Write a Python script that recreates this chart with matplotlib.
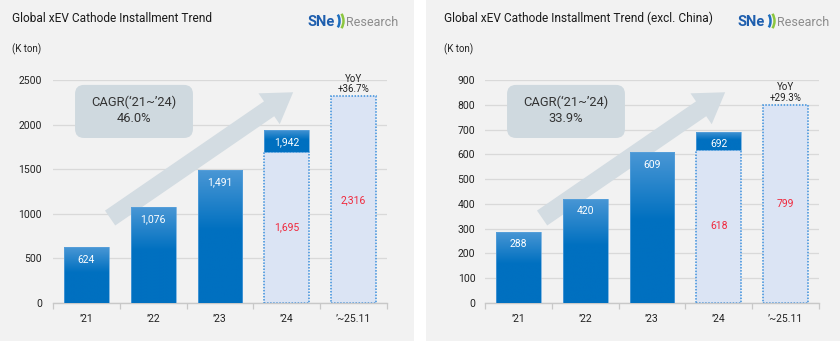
import matplotlib
matplotlib.use("Agg")
import matplotlib.pyplot as plt
import numpy as np
from matplotlib.patches import Rectangle, FancyBboxPatch, FancyArrowPatch, ArrowStyle, Arc
from matplotlib.colors import LinearSegmentedColormap

plt.rcParams['font.family'] = ['Roboto', 'DejaVu Sans']

# ---- data -------------------------------------------------------------
categories = ["’21", "’22", "’23", "’24", "’~25.11"]

global_full_year = [624, 1076, 1491, 1942]        # '21..'24 full year
global_to_nov = [1695, 2316]                      # '24 Jan-Nov, '25 Jan-Nov
global_cagr = "46.0%"
global_yoy = "+36.7%"

ex_china_full_year = [288, 420, 609, 692]
ex_china_to_nov = [618, 799]
ex_china_cagr = "33.9%"
ex_china_yoy = "+29.3%"

titles = ["Global xEV Cathode Installment Trend",
          "Global xEV Cathode Installment Trend (excl. China)"]
y_ticks_left = [0, 500, 1000, 1500, 2000, 2500]
y_ticks_right = [0, 100, 200, 300, 400, 500, 600, 700, 800, 900]

# ---- style ------------------------------------------------------------
W, H = 840, 341
PANEL = "#f2f2f2"
GRID = "#d9d9d9"
AXIS = "#c8c8c8"
BLUE_TOP = "#4a97d5"
BLUE_BOT = "#0070c0"
DOT_FILL = "#dbe4f4"
DOT_EDGE = "#3b8fdc"
RED = "#f0283c"
BOX = "#cfd9df"
ARROW = "#d3dce2"
BAR_W = 0.67

grad_cmap = LinearSegmentedColormap.from_list(
    "bar", [(0.0, BLUE_TOP), (0.45, BLUE_BOT), (1.0, BLUE_BOT)])
grad = np.linspace(0, 1, 256).reshape(-1, 1)

fig = plt.figure(figsize=(W / 100, H / 100), dpi=100)
fig.patch.set_facecolor("white")


def fx(px):
    return px / W


def fy(py):
    return 1 - py / H


# panel backgrounds
for x0, x1 in [(0, 414), (426, 840)]:
    fig.patches.append(Rectangle((fx(x0), 0), fx(x1 - x0), 1,
                                 transform=fig.transFigure,
                                 facecolor=PANEL, edgecolor="none", zorder=-10))


def gradient_bar(ax, x, y0, y1):
    rect = Rectangle((x - BAR_W / 2, y0), BAR_W, y1 - y0,
                     facecolor="none", edgecolor="#5ba2dc", lw=0.5, zorder=3.1)
    ax.add_patch(rect)
    im = ax.imshow(grad, cmap=grad_cmap, aspect="auto", origin="upper",
                   extent=[x - BAR_W / 2, x + BAR_W / 2, y0, y1], zorder=3,
                   interpolation="bilinear")
    im.set_clip_path(rect)


def dotted_bar(ax, x, h):
    ax.add_patch(Rectangle((x - BAR_W / 2, 0), BAR_W, h, facecolor=DOT_FILL,
                           edgecolor=DOT_EDGE, lw=1.1, linestyle=(0, (1, 1)),
                           zorder=2.5))


def draw_logo(x, y):
    fig.text(fx(x), fy(y), "SNe", color="#1f5fae", fontweight="bold",
             fontsize=10.5, va="center", ha="left")
    fig.patches.append(Arc((fx(x + 28), fy(y - 1)), fx(9), 16 / H,
                           theta1=-80, theta2=80, color="#1f6fbf", lw=1.8,
                           transform=fig.transFigure))
    fig.patches.append(Arc((fx(x + 28), fy(y - 1)), fx(17), 22 / H,
                           theta1=-70, theta2=70, color="#8cc63f", lw=1.8,
                           transform=fig.transFigure))
    fig.text(fx(x + 39), fy(y + 0.5), "Research", color="#8c8c8c",
             fontsize=9, va="center", ha="left")


def panel(ax_left_px, full_year, to_nov, ymax, yticks, cagr, yoy, ypad):
    ax = fig.add_axes([fx(ax_left_px), fy(303), fx(334), 223 / H])
    ax.set_facecolor("none")
    n = len(categories)
    xs = np.arange(n)

    # solid bars '21-'23
    for i in range(3):
        gradient_bar(ax, xs[i], 0, full_year[i])
        ax.annotate(f"{full_year[i]:,}", (xs[i], full_year[i]),
                    xytext=(0, -9), textcoords="offset points",
                    ha="center", va="center", color="white", fontsize=7.5,
                    zorder=5)

    # '24: Jan-Nov dotted part plus the remainder of the full year
    dotted_bar(ax, xs[3], to_nov[0])
    gradient_bar(ax, xs[3], to_nov[0], full_year[3])
    ax.annotate(f"{full_year[3]:,}", (xs[3], full_year[3]),
                xytext=(0, -9), textcoords="offset points",
                ha="center", va="center", color="white", fontsize=7.5, zorder=5)
    ax.text(xs[3], to_nov[0] / 2, f"{to_nov[0]:,}", ha="center", va="center",
            color=RED, fontsize=7.5, zorder=5)

    # '25 Jan-Nov
    dotted_bar(ax, xs[4], to_nov[1])
    ax.text(xs[4], to_nov[1] / 2, f"{to_nov[1]:,}", ha="center", va="center",
            color=RED, fontsize=7.5, zorder=5)
    ax.annotate(f"YoY\n{yoy}", (xs[4], to_nov[1]), xytext=(0, 1.5),
                textcoords="offset points", ha="center", va="bottom",
                fontsize=7, color="#222222", linespacing=1.1, zorder=5)

    # growth arrow and CAGR box
    arrow = FancyArrowPatch((0.171, 0.381), (0.719, 0.945),
                            transform=ax.transAxes,
                            arrowstyle=ArrowStyle.Simple(head_length=21,
                                                         head_width=27,
                                                         tail_width=13),
                            mutation_scale=1, facecolor=ARROW,
                            edgecolor="none", zorder=1, shrinkA=0, shrinkB=0)
    ax.add_patch(arrow)
    box = FancyBboxPatch((0.066, 0.740), 0.353, 0.238,
                         boxstyle="round,pad=0,rounding_size=0.027",
                         mutation_aspect=334 / 223,
                         transform=ax.transAxes, facecolor=BOX,
                         edgecolor="none", zorder=1.5)
    ax.add_patch(box)
    ax.text(0.2425, 0.862, f"CAGR(‘21~’24)\n{cagr}", transform=ax.transAxes,
            ha="center", va="center", fontsize=9.3, color="#333333",
            linespacing=1.3, zorder=2)

    ax.set_xlim(-0.5, n - 0.5)
    ax.set_ylim(0, ymax)
    ax.set_xticks(xs)
    ax.set_xticklabels(categories)
    ax.set_xticks(np.arange(-0.5, n, 1.0), minor=True)
    ax.set_yticks(yticks)
    ax.tick_params(axis="x", which="major", length=0, pad=8, labelsize=7.5,
                   labelcolor="#222222")
    ax.tick_params(axis="x", which="minor", length=4, color=AXIS, width=0.9)
    ax.tick_params(axis="y", length=0, pad=ypad, labelsize=7.5,
                   labelcolor="#222222")
    for s in ["top", "right", "left"]:
        ax.spines[s].set_visible(False)
    ax.spines["bottom"].set_color(AXIS)
    ax.spines["bottom"].set_linewidth(1.0)
    ax.set_axisbelow(True)
    ax.yaxis.grid(True, color=GRID, lw=0.9)
    return ax


panel(53, global_full_year, global_to_nov, 2500, y_ticks_left,
      global_cagr, global_yoy, 8)
panel(485, ex_china_full_year, ex_china_to_nov, 900, y_ticks_right,
      ex_china_cagr, ex_china_yoy, 7)

for tx, t in zip([12, 444], titles):
    fig.text(fx(tx), fy(18), t, fontsize=8.6, color="#1a1a1a",
             va="center", ha="left")
    fig.text(fx(tx), fy(49), "(K ton)", fontsize=7, color="#222222",
             va="center", ha="left")

draw_logo(307, 22)
draw_logo(738, 22)

fig.savefig("out.png", dpi=100)
